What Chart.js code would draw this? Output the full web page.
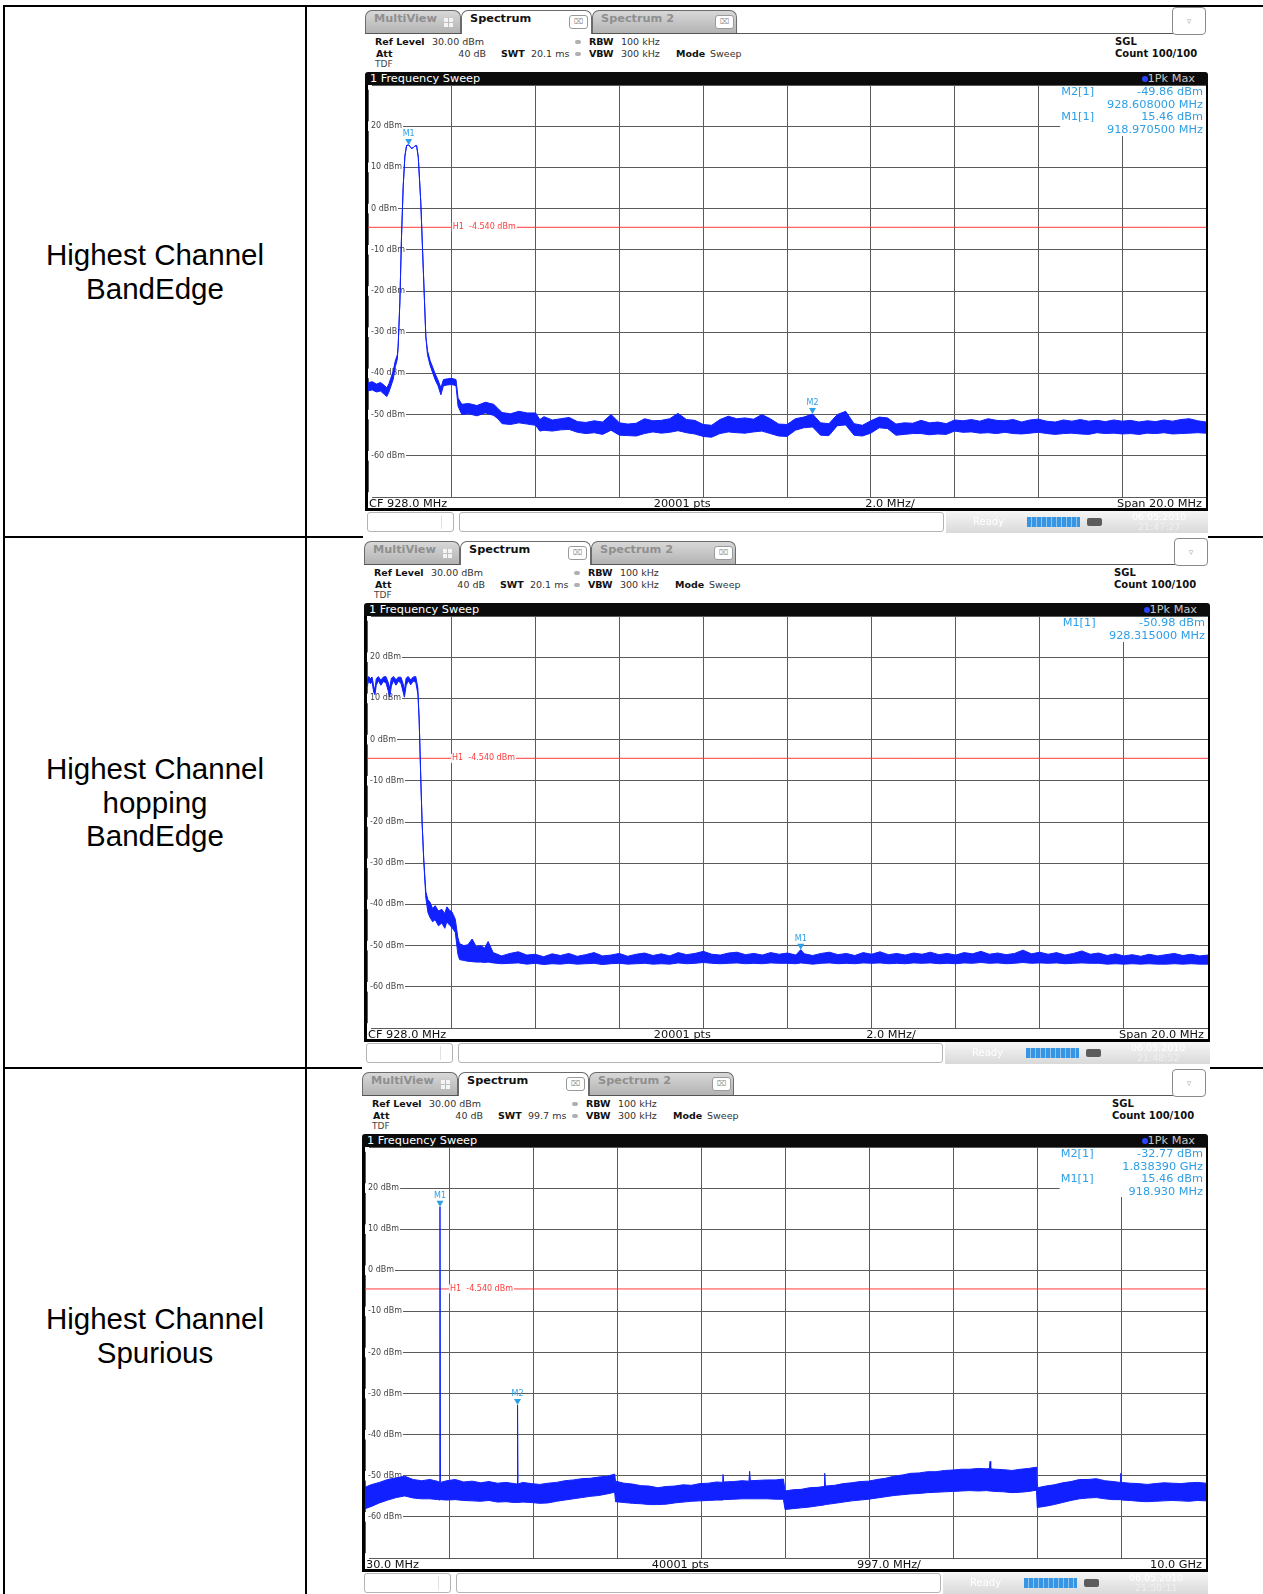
<!DOCTYPE html>
<html>
<head>
<meta charset="utf-8">
<script src="https://cdn.jsdelivr.net/npm/chart.js@4.4.1/dist/chart.umd.min.js"></script>
<style>
html, body { margin: 0; padding: 0; background: #fff; }
body { width: 1263px; height: 1594px; position: relative; overflow: hidden; font-family: "DejaVu Sans", sans-serif; }
.t { position: absolute; white-space: nowrap; z-index: 3; font-family: "DejaVu Sans", sans-serif; font-size: 9.5px; line-height: 12px; color: #333; }
.b { font-weight: bold; color: #111; }
.rowlabel { position: absolute; z-index: 0; display: flex; align-items: center; justify-content: center; text-align: center;
  font-family: "Liberation Sans", Arial, sans-serif; font-size: 29.5px; line-height: 33.6px; color: #000; }
canvas { position: absolute; z-index: 2; }
</style>
</head>
<body>
<script>
// ---- data ----
const rowLabels = [
  ['Highest Channel', 'BandEdge'],
  ['Highest Channel', 'hopping', 'BandEdge'],
  ['Highest Channel', 'Spurious']
];

const yMin = -70, yMax = 30, yStep = 10;
const h1Level = -4.54;
const bandTicks = [918, 920, 922, 924, 926, 928, 930, 932, 934, 936, 938];
const spurTicks = [30, 1027, 2024, 3021, 4018, 5015, 6012, 7009, 8006, 9003, 10000];

// panel 1: highest channel band edge (MHz, dBm)
const p1Freq = [
  918.0, 918.1, 918.2, 918.3, 918.4, 918.45, 918.5, 918.6, 918.65, 918.7,
  918.72, 918.76, 918.8, 918.84, 918.88, 918.92, 918.97, 919.0, 919.04, 919.08,
  919.12, 919.16, 919.2, 919.26, 919.32, 919.38, 919.42, 919.48, 919.6, 919.67,
  919.74, 919.8, 919.9, 920.0, 920.1, 920.15, 920.24, 920.4, 920.6, 920.8,
  921.0, 921.1, 921.2, 921.4, 921.6, 921.8, 922.0, 922.1, 922.2, 922.4,
  922.6, 922.8, 923.0, 923.2, 923.4, 923.6, 923.8, 924.0, 924.2, 924.4,
  924.6, 924.8, 925.0, 925.2, 925.4, 925.6, 925.8, 926.0, 926.2, 926.4,
  926.6, 926.8, 927.0, 927.2, 927.4, 927.6, 927.8, 928.0, 928.2, 928.4,
  928.61, 928.8, 929.0, 929.2, 929.4, 929.6, 929.8, 930.0, 930.2, 930.4,
  930.6, 930.8, 931.0, 931.2, 931.4, 931.6, 931.8, 932.0, 932.2, 932.4,
  932.6, 932.8, 933.0, 933.2, 933.4, 933.6, 933.8, 934.0, 934.2, 934.4,
  934.6, 934.8, 935.0, 935.2, 935.4, 935.6, 935.8, 936.0, 936.2, 936.4,
  936.6, 936.8, 937.0, 937.2, 937.4, 937.6, 937.8, 938.0
];
const p1Max = [
  -42.3, -42.0, -42.6, -42.2, -43.0, -43.5, -42.5, -39.5, -37.0, -35.5,
  -33.4, -22.8, -6.7, 5.4, 12.7, 15.3, 15.46, 15.1, 14.6, 14.8,
  15.2, 15.3, 12.5, 1.5, -14.8, -31.0, -34.5, -36.8, -40.0, -41.6,
  -43.5, -41.5, -41.3, -41.2, -41.5, -46.0, -47.5, -47.3, -47.8, -47.0,
  -47.5, -48.5, -49.5, -49.8, -49.2, -49.6, -49.6, -51.2, -50.5, -51.3,
  -51.0, -50.7, -51.7, -51.9, -51.5, -51.8, -50.0, -52.0, -52.3, -52.1,
  -51.0, -51.5, -51.4, -51.0, -49.7, -51.2, -51.4, -52.4, -52.6, -51.2,
  -50.4, -51.0, -50.8, -51.1, -50.0, -51.0, -52.3, -52.4, -51.0, -50.6,
  -49.86, -52.0, -52.2, -50.0, -49.2, -52.2, -52.6, -51.5, -50.6, -50.8,
  -52.3, -52.0, -52.1, -51.4, -52.0, -51.8, -52.2, -51.3, -51.5, -51.2,
  -51.6, -51.0, -51.4, -51.5, -51.2, -51.8, -51.3, -51.1, -51.6, -51.8,
  -51.3, -51.6, -51.2, -51.6, -51.4, -51.7, -51.3, -51.6, -51.4, -51.8,
  -51.5, -51.7, -51.3, -51.6, -51.2, -51.0, -51.5, -51.8
];
const p1Min = [
  -44.2, -44.0, -44.5, -44.3, -45.2, -45.6, -44.5, -41.5, -38.5, -36.5,
  -33.4, -22.8, -6.7, 5.4, 12.7, 15.3, 15.46, 15.1, 14.6, 14.8,
  15.2, 15.3, 12.5, 1.5, -14.8, -31.0, -35.5, -38.0, -41.5, -43.0,
  -45.2, -43.0, -42.8, -42.7, -43.0, -48.0, -50.0, -49.8, -50.3, -49.6,
  -50.2, -51.0, -52.2, -52.4, -52.0, -52.3, -52.6, -54.0, -53.8, -54.0,
  -53.7, -53.6, -54.3, -54.6, -54.4, -54.8, -53.8, -55.0, -55.1, -55.2,
  -54.6, -54.2, -54.5, -54.3, -53.9, -54.4, -54.7, -55.3, -55.5, -54.6,
  -54.2, -54.4, -54.5, -54.2, -54.0, -54.6, -55.2, -55.3, -53.8, -53.2,
  -53.0, -55.0, -55.1, -52.7, -52.5, -55.0, -55.2, -54.5, -53.2, -53.4,
  -55.0, -54.8, -54.6, -54.6, -54.9, -54.7, -54.8, -54.0, -54.3, -54.2,
  -54.5, -54.4, -54.6, -54.3, -54.6, -54.7, -54.5, -54.3, -54.6, -54.8,
  -54.6, -54.5, -54.7, -54.8, -54.4, -54.6, -54.5, -54.7, -54.6, -54.8,
  -54.5, -54.6, -54.4, -54.7, -54.6, -54.5, -54.4, -54.5
];
const p1MarkerNames = ['M1', 'M2'];
const p1MarkerFreq = [918.9705, 928.608];
const p1MarkerLevel = [15.46, -49.86];
const p1Info = [['M2[1]', '-49.86 dBm'], ['', '928.608000 MHz'], ['M1[1]', '15.46 dBm'], ['', '918.970500 MHz']];
const p1Foot = ['CF 928.0 MHz', '20001 pts', '2.0 MHz/', 'Span 20.0 MHz'];

// panel 2: highest channel hopping band edge
const p2Freq = [
  918.0, 918.04, 918.08, 918.12, 918.16, 918.19, 918.22, 918.27, 918.33, 918.39,
  918.45, 918.5, 918.54, 918.58, 918.63, 918.69, 918.75, 918.81, 918.86, 918.89,
  918.93, 918.98, 919.04, 919.1, 919.16, 919.21, 919.24, 919.28, 919.31, 919.35,
  919.4, 919.45, 919.5, 919.56, 919.62, 919.7, 919.78, 919.85, 919.9, 919.96,
  920.02, 920.1, 920.16, 920.2, 920.3, 920.4, 920.5, 920.6, 920.7, 920.8,
  920.88, 921.0, 921.2, 921.4, 921.6, 921.8, 922.0, 922.2, 922.4, 922.6,
  922.8, 923.0, 923.2, 923.4, 923.6, 923.8, 924.0, 924.2, 924.4, 924.6,
  924.8, 925.0, 925.2, 925.4, 925.6, 925.8, 926.0, 926.2, 926.4, 926.6,
  926.8, 927.0, 927.2, 927.4, 927.6, 927.8, 928.0, 928.2, 928.315, 928.4,
  928.6, 928.8, 929.0, 929.2, 929.4, 929.6, 929.8, 930.0, 930.2, 930.4,
  930.6, 930.8, 931.0, 931.2, 931.4, 931.6, 931.8, 932.0, 932.2, 932.4,
  932.6, 932.8, 933.0, 933.2, 933.4, 933.6, 933.8, 934.0, 934.2, 934.4,
  934.6, 934.8, 935.0, 935.2, 935.4, 935.6, 935.8, 936.0, 936.2, 936.4,
  936.6, 936.8, 937.0, 937.2, 937.4, 937.6, 937.8, 938.0
];
const p2Max = [
  14.6, 15.3, 14.8, 15.2, 13.0, 12.0, 14.8, 15.3, 14.4, 15.2,
  15.3, 14.0, 12.5, 14.9, 15.3, 14.5, 15.2, 15.1, 13.5, 12.0,
  14.9, 15.3, 14.5, 15.2, 15.3, 12.5, 5.0, -9.8, -20.0, -29.2,
  -37.0, -38.9, -39.5, -41.0, -40.3, -41.6, -41.2, -42.2, -40.6, -41.4,
  -41.8, -43.6, -48.0, -49.5, -50.0, -49.8, -48.4, -50.3, -50.0, -50.6,
  -49.0, -51.7, -52.5, -51.9, -51.5, -52.3, -52.1, -52.7, -52.0, -52.4,
  -51.9, -52.6, -52.2, -51.7, -52.5, -52.3, -51.9, -52.6, -52.1, -51.8,
  -52.4, -52.0, -52.5, -51.7, -52.2, -51.9, -51.4, -52.1, -52.3, -51.8,
  -51.6, -52.2, -51.9, -52.3, -51.7, -52.1, -51.8, -52.3, -50.98, -52.0,
  -52.4, -51.9, -51.6, -52.2, -51.9, -52.4, -51.7, -52.1, -51.5, -52.2,
  -51.9, -52.3, -51.8, -52.1, -51.6, -52.2, -51.9, -52.3, -51.7, -52.0,
  -51.4, -52.1, -51.8, -52.2, -51.9, -51.1, -52.0, -51.6, -52.1, -51.7,
  -52.3, -51.9, -51.3, -52.1, -51.8, -52.4, -52.0, -52.5, -52.2, -52.6,
  -52.1, -52.5, -52.2, -51.9, -52.4, -52.1, -52.5, -52.3
];
const p2Min = [
  12.8, 14.2, 13.6, 14.0, 11.5, 10.9, 13.2, 14.3, 13.2, 14.1,
  13.8, 12.0, 10.3, 13.0, 14.3, 13.2, 14.2, 13.6, 11.5, 10.3,
  13.1, 14.3, 13.3, 14.2, 13.9, 11.0, 5.0, -9.8, -20.0, -29.5,
  -38.5, -42.0, -43.2, -44.2, -43.7, -45.2, -44.5, -45.8, -44.2, -45.0,
  -45.6, -46.8, -52.0, -53.4, -53.6, -53.8, -53.9, -54.0, -54.0, -54.1,
  -54.0, -54.2, -54.4, -54.3, -54.2, -54.5, -54.3, -54.6, -54.4, -54.5,
  -54.3, -54.5, -54.4, -54.3, -54.6, -54.4, -54.3, -54.5, -54.4, -54.3,
  -54.5, -54.4, -54.5, -54.2, -54.4, -54.3, -54.1, -54.3, -54.4, -54.3,
  -54.2, -54.4, -54.3, -54.4, -54.2, -54.3, -54.3, -54.4, -54.2, -54.3,
  -54.5, -54.3, -54.2, -54.4, -54.3, -54.4, -54.2, -54.3, -54.2, -54.4,
  -54.3, -54.4, -54.2, -54.3, -54.2, -54.4, -54.3, -54.4, -54.2, -54.3,
  -54.1, -54.3, -54.2, -54.4, -54.3, -54.1, -54.3, -54.2, -54.3, -54.2,
  -54.4, -54.3, -54.2, -54.3, -54.3, -54.5, -54.4, -54.5, -54.4, -54.5,
  -54.4, -54.5, -54.5, -54.4, -54.5, -54.4, -54.5, -54.5
];
const p2MarkerNames = ['M1'];
const p2MarkerFreq = [928.315];
const p2MarkerLevel = [-50.98];
const p2Info = [['M1[1]', '-50.98 dBm'], ['', '928.315000 MHz']];
const p2Foot = ['CF 928.0 MHz', '20001 pts', '2.0 MHz/', 'Span 20.0 MHz'];

// panel 3: spurious 30 MHz - 10 GHz
const p3Freq = [
  30, 100, 200, 300, 400, 500, 600, 700, 800, 900,
  914, 918.93, 924, 1000, 1100, 1200, 1300, 1400, 1500, 1600,
  1700, 1800, 1833, 1838.39, 1844, 1900, 2000, 2100, 2200, 2300,
  2400, 2500, 2600, 2700, 2800, 2900, 2990, 3000, 3100, 3200,
  3300, 3400, 3500, 3600, 3700, 3800, 3900, 4000, 4100, 4200,
  4266, 4274, 4282, 4400, 4500, 4582, 4590, 4598, 4700, 4800,
  4900, 4990, 5010, 5100, 5200, 5300, 5400, 5472, 5480, 5488,
  5600, 5700, 5800, 5900, 6000, 6100, 6200, 6300, 6400, 6500,
  6600, 6700, 6800, 6900, 7000, 7100, 7200, 7300, 7400, 7432,
  7440, 7448, 7500, 7600, 7700, 7800, 7900, 7990, 8000, 8100,
  8200, 8300, 8400, 8500, 8600, 8700, 8800, 8900, 8982, 8990,
  8998, 9100, 9200, 9300, 9400, 9500, 9600, 9700, 9800, 9900,
  10000
];
const p3Max = [
  -52.8, -52.2, -51.6, -50.9, -50.5, -50.1, -50.9, -51.2, -50.9, -51.4,
  -51.5, 15.46, -51.6, -51.2, -50.9, -51.5, -51.3, -51.7, -51.4, -51.8,
  -51.6, -51.9, -52.0, -32.77, -52.0, -51.6, -51.9, -52.1, -51.8, -51.6,
  -51.2, -51.0, -50.7, -50.6, -50.3, -50.1, -49.6, -51.3, -51.8, -52.0,
  -52.4, -52.5, -52.9, -52.6, -52.5, -52.2, -52.3, -51.9, -51.8, -51.5,
  -51.6, -49.7, -51.5, -51.4, -51.2, -51.3, -48.9, -51.2, -51.1, -51.0,
  -51.0, -50.8, -53.7, -53.4, -53.3, -52.9, -52.8, -52.6, -49.4, -52.5,
  -52.3, -51.9, -51.7, -51.4, -51.3, -50.9, -50.6, -50.1, -49.8, -49.4,
  -49.3, -49.0, -49.0, -48.7, -48.6, -48.4, -48.4, -48.2, -48.3, -48.2,
  -46.5, -48.3, -48.4, -48.5, -48.7, -48.4, -48.2, -47.9, -52.9, -52.5,
  -52.2, -51.7, -51.4, -50.9, -50.9, -50.7, -51.2, -51.4, -51.6, -49.4,
  -51.6, -51.8, -51.9, -52.1, -51.9, -51.7, -51.8, -51.9, -51.7, -51.6,
  -51.8
];
const p3Min = [
  -58.0, -57.5, -56.6, -55.9, -55.3, -54.9, -55.4, -55.6, -55.6, -55.8,
  -55.9, -55.6, -55.8, -55.9, -55.8, -56.0, -56.1, -56.2, -56.0, -56.4,
  -56.3, -56.5, -56.5, -56.3, -56.5, -56.4, -56.5, -56.7, -56.6, -56.2,
  -55.9, -55.6, -55.3, -55.0, -54.8, -54.4, -54.0, -56.3, -56.5, -56.7,
  -56.8, -57.0, -57.0, -56.9, -56.6, -56.4, -56.2, -56.1, -56.0, -55.9,
  -55.9, -55.8, -55.8, -55.7, -55.6, -55.6, -55.6, -55.6, -55.6, -55.6,
  -55.7, -55.7, -58.2, -58.0, -57.8, -57.6, -57.3, -57.1, -57.0, -57.0,
  -56.7, -56.4, -56.1, -55.9, -55.7, -55.4, -55.1, -54.8, -54.6, -54.4,
  -54.3, -54.1, -54.0, -53.9, -53.8, -53.7, -53.6, -53.7, -53.6, -53.7,
  -53.7, -53.7, -53.8, -53.9, -54.1, -54.0, -53.8, -53.5, -57.7, -57.4,
  -57.0, -56.5, -56.0, -55.6, -55.4, -55.3, -55.6, -55.8, -55.8, -55.7,
  -55.9, -56.0, -56.2, -56.3, -56.2, -56.1, -56.0, -56.1, -56.2, -56.0,
  -56.1
];
const p3MarkerNames = ['M1', 'M2'];
const p3MarkerFreq = [918.93, 1838.39];
const p3MarkerLevel = [15.46, -32.77];
const p3Info = [['M2[1]', '-32.77 dBm'], ['', '1.838390 GHz'], ['M1[1]', '15.46 dBm'], ['', '918.930 MHz']];
const p3Foot = ['30.0 MHz', '40001 pts', '997.0 MHz/', '10.0 GHz'];

// ---- layout ----
const BLUE = '#1020ff';
const GRID = '#5a5a5a';
const MK = '#2e9fe6';
const RED = '#ff3b3b';

const panels = [
  { gl: 368, gt: 85, w: 838, h: 412, bgTop: 7, bgBot: 538, xMin: 918, xMax: 938, xTicks: bandTicks,
    freq: p1Freq, max: p1Max, min: p1Min, mNames: p1MarkerNames, mFreq: p1MarkerFreq, mLevel: p1MarkerLevel,
    info: p1Info, infoH: 50, foot: p1Foot, swt: '20.1 ms', time: '21:47:27' },
  { gl: 367, gt: 616, w: 841, h: 412, bgTop: 538, bgBot: 1069, xMin: 918, xMax: 938, xTicks: bandTicks,
    freq: p2Freq, max: p2Max, min: p2Min, mNames: p2MarkerNames, mFreq: p2MarkerFreq, mLevel: p2MarkerLevel,
    info: p2Info, infoH: 25, foot: p2Foot, swt: '20.1 ms', time: '21:48:52' },
  { gl: 365, gt: 1147, w: 841, h: 411, bgTop: 1069, bgBot: 1594, xMin: 30, xMax: 10000, xTicks: spurTicks,
    freq: p3Freq, max: p3Max, min: p3Min, mNames: p3MarkerNames, mFreq: p3MarkerFreq, mLevel: p3MarkerLevel,
    info: p3Info, infoH: 49, foot: p3Foot, swt: '99.7 ms', time: '21:50:11' }
];

function box(l, t, w, h, css) {
  const d = document.createElement('div');
  d.style.cssText = 'position:absolute;left:' + l + 'px;top:' + t + 'px;width:' + w + 'px;height:' + h + 'px;';
  Object.assign(d.style, css || {});
  document.body.appendChild(d);
  return d;
}
function text(s, l, t, cls, css) {
  const d = document.createElement('div');
  d.className = 't' + (cls ? ' ' + cls : '');
  d.textContent = s;
  d.style.left = l + 'px';
  d.style.top = t + 'px';
  Object.assign(d.style, css || {});
  document.body.appendChild(d);
  return d;
}

// table grid
box(3, 5, 1260, 2, { background: '#000' });
box(3, 5, 2, 1589, { background: '#000' });
box(305, 5, 2, 1589, { background: '#000' });
box(3, 536, 1260, 2, { background: '#000' });
box(3, 1067, 1260, 2, { background: '#000' });

const rowBoxes = [[7, 529], [538, 529], [1069, 533]];
rowLabels.forEach((lines, i) => {
  const d = box(5, rowBoxes[i][0], 300, rowBoxes[i][1], {});
  d.className = 'rowlabel';
  d.innerHTML = lines.join('<br>');
});

function tab(l, t, w, label, active, closeLeft, grid) {
  const d = box(l, t, w, active ? 24 : 23, {
    zIndex: 3, boxSizing: 'border-box', border: '1px solid #6b6b6b', borderBottom: 'none',
    borderRadius: '7px 7px 0 0', background: active ? '#fff' : 'linear-gradient(#d8d8d8, #b3b3b3)'
  });
  const s = document.createElement('span');
  s.textContent = label;
  s.style.cssText = 'position:absolute;left:8px;top:1px;line-height:22px;font:bold 11.3px "DejaVu Sans";color:' +
    (active ? '#111' : '#8f8f8f') + ';';
  d.appendChild(s);
  if (closeLeft != null) {
    const c = document.createElement('div');
    c.textContent = '\u2327';
    c.style.cssText = 'position:absolute;left:' + closeLeft + 'px;top:4px;width:19px;height:14px;box-sizing:border-box;' +
      'border:1px solid #9a9a9a;border-radius:3px;background:#fff;font:8px "DejaVu Sans";line-height:12px;text-align:center;color:#999;';
    d.appendChild(c);
  }
  if (grid) {
    const g = document.createElement('div');
    g.style.cssText = 'position:absolute;left:78px;top:7px;width:9px;height:9px;background:' +
      'linear-gradient(90deg, transparent 4px, #bdbdbd 4px, #bdbdbd 5px, transparent 5px),' +
      'linear-gradient(transparent 4px, #bdbdbd 4px, #bdbdbd 5px, transparent 5px), #f4f4f4;';
    d.appendChild(g);
  }
  return d;
}

function decor(p) {
  return {
    id: 'decor',
    beforeDatasetsDraw(chart) {
      const { ctx, chartArea: a } = chart;
      const bx = a.left + a.width * 0.826;
      ctx.save();
      ctx.fillStyle = '#fff';
      ctx.fillRect(bx, a.top + 1, a.right - bx, p.infoH);
      ctx.font = '11.3px "DejaVu Sans"';
      ctx.fillStyle = MK;
      ctx.textBaseline = 'middle';
      p.info.forEach((row, i) => {
        const y = a.top + 7.5 + i * 12.5;
        ctx.textAlign = 'left';
        ctx.fillText(row[0], bx + 1, y);
        ctx.textAlign = 'right';
        ctx.fillText(row[1], a.right - 3, y);
      });
      ctx.restore();
    },
    afterDatasetsDraw(chart) {
      const { ctx, chartArea: a, scales: { x, y } } = chart;
      ctx.save();
      ctx.font = '8px "DejaVu Sans"';
      ctx.textBaseline = 'middle';
      const label = 'H1  ' + h1Level.toFixed(3) + ' dBm';
      const tw = ctx.measureText(label).width;
      const lx = a.left + a.width * 0.1 + 1, ly = y.getPixelForValue(h1Level);
      ctx.fillStyle = '#fff';
      ctx.fillRect(lx - 1, ly - 4.5, tw + 2, 9);
      ctx.fillStyle = RED;
      ctx.textAlign = 'left';
      ctx.fillText(label, lx, ly);
      p.mNames.forEach((n, i) => {
        const px = x.getPixelForValue(p.mFreq[i]);
        const py = y.getPixelForValue(p.mLevel[i]);
        ctx.fillStyle = MK;
        ctx.beginPath();
        ctx.moveTo(px - 3.5, py - 6);
        ctx.lineTo(px + 3.5, py - 6);
        ctx.lineTo(px, py);
        ctx.closePath();
        ctx.fill();
        ctx.textAlign = 'center';
        ctx.fillText(n, px, py - 11);
      });
      ctx.restore();
    }
  };
}

// the plot fills the whole canvas: no room kept for axis labels
function flatX(s) { s.height = 0; s.paddingLeft = 0; s.paddingRight = 0; s.paddingTop = 0; s.paddingBottom = 0; }
function flatY(s) { s.width = 0; s.paddingLeft = 0; s.paddingRight = 0; s.paddingTop = 0; s.paddingBottom = 0; }

function buildPanel(p) {
  const gl = p.gl, gt = p.gt, w = p.w, h = p.h;
  const R = gl + w + 2;
  box(gl - 5, p.bgTop, R - gl + 5, p.bgBot - p.bgTop, { background: '#fff', zIndex: 1 });

  // tab bar
  const tt = gt - 75;
  box(gl - 3, tt + 23, R - 35 - (gl - 3), 1, { background: '#555', zIndex: 2 });
  tab(gl - 3, tt, 96, 'MultiView', false, null, true);
  tab(gl + 93, tt, 131, 'Spectrum', true, 107);
  tab(gl + 224, tt, 145, 'Spectrum 2', false, 122);
  const dd = box(R - 36, gt - 78, 34, 28, {
    zIndex: 3, boxSizing: 'border-box', border: '1px solid #8a8a8a', borderRadius: '4px', background: '#fff',
    color: '#aaa', font: '9px "DejaVu Sans"', lineHeight: '26px', textAlign: 'center'
  });
  dd.textContent = '\u25BF';

  // setting rows
  const r1 = gt - 49.5, r2 = gt - 37.5, r3 = gt - 27;
  text('Ref Level', gl + 7, r1, 'b');
  text('30.00 dBm', gl + 64, r1);
  box(gl + 207, r1 + 4, 6, 4, { background: '#b0b0b0', borderRadius: '2px', zIndex: 3 });
  text('RBW', gl + 221, r1, 'b');
  text('100 kHz', gl + 253, r1);
  text('SGL', gl + 747, r1, 'b', { fontSize: '10px' });
  text('Att', gl + 8, r2, 'b');
  text('40 dB', gl + 118, r2, null, { transform: 'translateX(-100%)' });
  text('SWT', gl + 133, r2, 'b');
  text(p.swt, gl + 163, r2);
  box(gl + 207, r2 + 4, 6, 4, { background: '#b0b0b0', borderRadius: '2px', zIndex: 3 });
  text('VBW', gl + 221, r2, 'b');
  text('300 kHz', gl + 253, r2);
  text('Mode', gl + 308, r2, 'b');
  text('Sweep', gl + 342, r2);
  text('Count 100/100', gl + 747, r2, 'b', { fontSize: '10px' });
  text('TDF', gl + 7, r3, null, { fontSize: '9px', color: '#444' });

  // sweep title bar
  box(gl - 3, gt - 13, w + 5, 13, { background: '#0b0b0b', borderRadius: '3px 3px 0 0', zIndex: 3 });
  text('1 Frequency Sweep', gl + 2, gt - 13, null, { color: '#fff', fontSize: '11.3px', lineHeight: '13px' });
  box(R - 66, gt - 9, 6, 6, { background: '#2a44ff', borderRadius: '3px', zIndex: 4 });
  text('1Pk Max', R - 13, gt - 13, null, { color: '#c4c4c4', fontSize: '11.3px', lineHeight: '13px', transform: 'translateX(-100%)' });

  // frame and footer bar
  box(gl - 3, gt, 3, h + 14, { background: '#000', zIndex: 3 });
  box(gl + w, gt, 2, h + 14, { background: '#000', zIndex: 3 });
  box(gl - 3, gt + h + 11, w + 5, 3, { background: '#000', zIndex: 3 });
  const fy = gt + h + 0.5;
  text(p.foot[0], gl + 1, fy, null, { fontSize: '11.3px', lineHeight: '11px', color: '#111' });
  text(p.foot[1], gl + w * 0.375, fy, null, { fontSize: '11.3px', lineHeight: '11px', color: '#111', transform: 'translateX(-50%)' });
  text(p.foot[2], gl + w * 0.623, fy, null, { fontSize: '11.3px', lineHeight: '11px', color: '#111', transform: 'translateX(-50%)' });
  text(p.foot[3], gl + w - 4, fy, null, { fontSize: '11.3px', lineHeight: '11px', color: '#111', transform: 'translateX(-100%)' });

  // status bar
  const sy = gt + h + 15;
  box(gl - 1, sy, 87, 20, { boxSizing: 'border-box', border: '1px solid #b4b4b4', borderRadius: '3px', background: '#fff', zIndex: 3 });
  box(gl + 73, sy + 3, 1, 14, { background: '#e2e2e2', zIndex: 4 });
  box(gl + 91, sy, 485, 20, { boxSizing: 'border-box', border: '1px solid #b4b4b4', borderRadius: '3px', background: '#fff', zIndex: 3 });
  box(gl + 578, sy - 1, R - gl - 578, 22, { background: 'linear-gradient(#f6f6f6, #d9d9d9)', zIndex: 3 });
  text('Ready', gl + 605, sy + 4, null, { color: '#fff', fontSize: '10px' });
  box(gl + 659, sy + 5, 53, 10, { background: 'repeating-linear-gradient(90deg, #3795e3 0px, #3795e3 4px, #8ec6f0 4px, #8ec6f0 5px)', zIndex: 4 });
  box(gl + 719, sy + 6, 15, 8, { background: '#5c5c5c', borderRadius: '2px', zIndex: 4 });
  text('06.05.2010', gl + 764, sy - 1, null, { color: '#fff', fontSize: '9.5px', lineHeight: '11px' });
  text(p.time, gl + 770, sy + 9, null, { color: '#f0f0f0', fontSize: '9.5px', lineHeight: '11px' });

  // plot canvas
  const cv = document.createElement('canvas');
  cv.width = w + 1;
  cv.height = h + 1;
  cv.style.left = gl + 'px';
  cv.style.top = gt + 'px';
  cv.style.width = (w + 1) + 'px';
  cv.style.height = (h + 1) + 'px';
  document.body.appendChild(cv);

  const trace = ys => p.freq.map((f, i) => ({ x: f, y: ys[i] }));
  new Chart(cv.getContext('2d'), {
    type: 'line',
    data: {
      datasets: [
        { data: trace(p.max), borderColor: BLUE, borderWidth: 1, fill: false },
        { data: trace(p.min), borderColor: BLUE, borderWidth: 1, fill: '-1', backgroundColor: BLUE },
        { data: [{ x: p.xMin, y: h1Level }, { x: p.xMax, y: h1Level }], borderColor: RED, borderWidth: 1, fill: false }
      ]
    },
    options: {
      responsive: false,
      animation: false,
      events: [],
      layout: { autoPadding: false, padding: { left: 0, top: 0, right: 1, bottom: 1 } },
      elements: { point: { radius: 0 }, line: { tension: 0 } },
      scales: {
        x: {
          type: 'linear', min: p.xMin, max: p.xMax,
          border: { display: false },
          grid: { color: GRID, drawTicks: false, lineWidth: 1 },
          ticks: { display: false },
          afterBuildTicks: s => { s.ticks = p.xTicks.map(v => ({ value: v })); },
          afterFit: flatX
        },
        y: {
          type: 'linear', min: yMin, max: yMax,
          border: { display: false },
          grid: { color: GRID, drawTicks: false, lineWidth: 1 },
          afterFit: flatY,
          ticks: {
            stepSize: yStep, mirror: true, padding: 3, color: '#444',
            font: { family: 'DejaVu Sans', size: 8 },
            showLabelBackdrop: true, backdropColor: '#fff',
            backdropPadding: { left: 3, right: 1, top: 0, bottom: 0 },
            callback: v => (v === yMax || v === yMin) ? '' : v + ' dBm'
          }
        }
      },
      plugins: { legend: { display: false }, tooltip: { enabled: false } }
    },
    plugins: [decor(p)]
  });
}

panels.forEach(buildPanel);
</script>
</body>
</html>
